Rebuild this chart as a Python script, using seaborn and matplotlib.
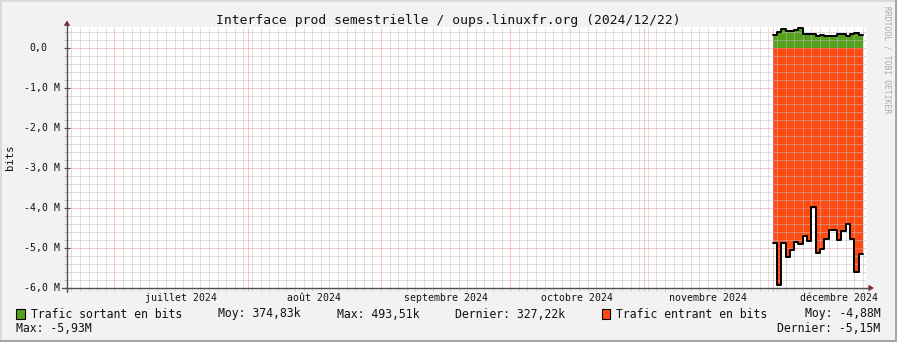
import numpy as np
import pandas as pd
import matplotlib
matplotlib.use("Agg")
import matplotlib.pyplot as plt
import matplotlib.dates as mdates
from matplotlib.lines import Line2D
from matplotlib.patches import Polygon, Rectangle
from matplotlib.ticker import MultipleLocator, FixedLocator, NullFormatter
from matplotlib.transforms import blended_transform_factory
import seaborn as sns

# ---------------- data ----------------
title = "Interface prod semestrielle / oups.linuxfr.org (2024/12/22)"
y_label = "bits"
watermark = "RRDTOOL / TOBI OETIKER"
period_start = "2024-06-20 00:00"
period_end = "2024-12-22 17:00"
data_start = "2024-12-01"

# daily values (outgoing in kbit, incoming in Mbit, incoming drawn negative)
sortant_k = [325, 408, 467, 425, 425, 442, 494, 358, 358, 358, 308,
             333, 292, 292, 292, 358, 358, 292, 342, 367, 327]
entrant_M = [-4.87, -5.93, -4.87, -5.23, -5.05, -4.84, -4.90, -4.69, -4.83, -3.98, -5.13,
             -5.03, -4.78, -4.56, -4.56, -4.80, -4.58, -4.41, -4.78, -5.60, -5.15]

month_starts = ["2024-07-01", "2024-08-01", "2024-09-01", "2024-10-01", "2024-11-01", "2024-12-01"]
month_labels = ["juillet 2024", "août 2024", "septembre 2024", "octobre 2024",
                "novembre 2024", "décembre 2024"]
y_ticks_M = [0, -1, -2, -3, -4, -5, -6]
y_tick_labels = ["0,0", "-1,0 M", "-2,0 M", "-3,0 M", "-4,0 M", "-5,0 M", "-6,0 M"]
y_top_M = 0.53

legend_out = ["Trafic sortant en bits", "Moy: 374,83k", "Max: 493,51k", "Dernier: 327,22k"]
legend_in = ["Trafic entrant en bits", "Moy: -4,88M", "Max: -5,93M", "Dernier: -5,15M"]

# ---------------- style ----------------
BACK = "#F2F2F2"
GREEN = "#55A01C"
ORANGE = "#FF4A12"
MGRID = "#EE8C8C"
GRID = "#BEBEBE"
AXIS = "#505050"
ARROW = "#8B1A1A"
MONO = ["DejaVu Sans Mono", "DejaVu Sans"]

sns.set_style("white")
plt.rcParams["font.family"] = MONO

W, H = 897, 342
fig = plt.figure(figsize=(W / 100, H / 100), dpi=100, facecolor=BACK)

L, R, B, T = 67, 866, 288, 26.7
ax = fig.add_axes([L / W, (H - B) / H, (R - L) / W, (B - T) / H])
ax.set_facecolor("white")
for s in ax.spines.values():
    s.set_visible(False)

x0 = mdates.date2num(pd.Timestamp(period_start))
x1 = mdates.date2num(pd.Timestamp(period_end))
ax.set_xlim(x0, x1)
ax.set_ylim(y_ticks_M[-1] * 1e6, y_top_M * 1e6)

# data
dates = pd.date_range(data_start, periods=len(sortant_k), freq="D")
edges = dates.append(pd.DatetimeIndex([dates[-1] + pd.Timedelta(days=1)]))
out_vals = np.array(sortant_k, dtype=float) * 1e3
in_vals = np.array(entrant_M, dtype=float) * 1e6
out_step = np.append(out_vals, out_vals[-1])
in_step = np.append(in_vals, in_vals[-1])
ex = mdates.date2num(edges)

ax.fill_between(ex, 0, out_step, step="post", color=GREEN, lw=0, zorder=1)
ax.fill_between(ex, 0, in_step, step="post", color=ORANGE, lw=0, zorder=1)

df = pd.DataFrame({"t": ex, "out": out_step, "in": in_step})
sns.lineplot(data=df, x="t", y="out", drawstyle="steps-post", color="black",
             lw=1.4, ax=ax, zorder=4)
sns.lineplot(data=df, x="t", y="in", drawstyle="steps-post", color="black",
             lw=1.4, ax=ax, zorder=4)
ax.set_xlabel("")
ax.set_ylabel("")

# grid (drawn above the areas like rrdtool)
ax.set_axisbelow(False)
dot = (0, (1, 1))
ax.yaxis.set_major_locator(FixedLocator(np.array(y_ticks_M) * 1e6))
ax.yaxis.set_minor_locator(MultipleLocator(2e5))
ax.yaxis.set_major_formatter(NullFormatter())
ax.grid(which="minor", axis="y", color=GRID, ls=dot, lw=0.72, zorder=3)
ax.grid(which="major", axis="y", color=MGRID, ls=dot, lw=0.72, zorder=3)
ax.tick_params(axis="y", which="major", direction="inout", length=4, width=0.8,
               color=AXIS, left=True)
ax.tick_params(axis="y", which="minor", direction="out", length=2, width=0.72,
               color="#BBBBBB", left=True)

mstart = mdates.date2num(pd.to_datetime(month_starts))
two_day = mdates.date2num(pd.date_range("2024-06-21", period_end, freq="2D"))
tick_ext = -3 / (B - T)
for d in two_day:
    if np.min(np.abs(mstart - d)) < 0.5:
        continue
    ax.axvline(d, ymin=tick_ext, ymax=1, color=GRID, ls=dot, lw=0.72, zorder=3, clip_on=False)
for d in mstart:
    ax.axvline(d, ymin=tick_ext, ymax=1, color=MGRID, ls=dot, lw=0.72, zorder=3, clip_on=False)

# month labels centred in their month
month_end = np.append(mstart[1:], mdates.date2num(pd.Timestamp("2025-01-01")))
ax.set_xticks((mstart + month_end) / 2)
ax.set_xticklabels(month_labels)
ax.tick_params(axis="x", which="both", length=0, pad=3.6, labelsize=7.1,
               labelcolor="#111111", bottom=True)
ax.xaxis.set_minor_locator(FixedLocator([]))

# y labels
ytr = blended_transform_factory(fig.transFigure, ax.transData)
for v, lab in zip(y_ticks_M, y_tick_labels):
    xr = 60 if lab.endswith("M") else 47.7
    ax.text(xr / W, v * 1e6, lab, transform=ytr, ha="right", va="center",
            fontsize=7.1, color="#111111", clip_on=False)

# axes lines and arrows
def fx(x):
    return x / W

def fy(y):
    return 1 - y / H

fig.add_artist(Line2D([fx(67), fx(67)], [fy(292), fy(23)], color=AXIS, lw=1.0))
fig.add_artist(Line2D([fx(62), fx(870)], [fy(288), fy(288)], color=AXIS, lw=1.0))
fig.add_artist(Polygon([[fx(67), fy(20.5)], [fx(63.8), fy(25.8)], [fx(70.2), fy(25.8)]],
                       closed=True, color=ARROW, lw=0))
fig.add_artist(Polygon([[fx(874), fy(288)], [fx(868.5), fy(284.8)], [fx(868.5), fy(291.2)]],
                       closed=True, color=ARROW, lw=0))

# frame shading
fig.add_artist(Rectangle((0, fy(2)), 1, 2 / H, color="#DADADA", lw=0))
fig.add_artist(Rectangle((0, 0), 2 / W, 1, color="#DADADA", lw=0))
fig.add_artist(Rectangle((0, 0), 1, 2 / H, color="#A6A6A6", lw=0))
fig.add_artist(Rectangle((1 - 2 / W, 0), 2 / W, 1, color="#A6A6A6", lw=0))

# texts
fig.text(fx(448.5), fy(24.3), title, ha="center", va="baseline", fontsize=9.4, color="#111111")
fig.text(fx(10), fy(157.5), y_label, rotation=90, ha="center", va="center",
         fontsize=7.6, color="#111111")
fig.text(fx(887), fy(60), watermark, rotation=270, ha="center", va="center",
         fontsize=5.8, color="#AAAAAA")

LEG = 8.3
fig.add_artist(Rectangle((fx(15.7), fy(318.7)), 9.3 / W, 9.4 / H, facecolor=GREEN,
                         edgecolor="black", lw=0.8))
fig.text(fx(30.7), fy(317.5), legend_out[0], fontsize=LEG, va="baseline", color="#111111")
fig.text(fx(217.7), fy(317.5), legend_out[1], fontsize=LEG, va="baseline", color="#111111")
fig.text(fx(336.7), fy(317.5), legend_out[2], fontsize=LEG, va="baseline", color="#111111")
fig.text(fx(455), fy(317.5), legend_out[3], fontsize=LEG, va="baseline", color="#111111")

fig.add_artist(Rectangle((fx(601.5), fy(318.7)), 8.5 / W, 9.4 / H, facecolor=ORANGE,
                         edgecolor="black", lw=0.8))
fig.text(fx(615.7), fy(317.5), legend_in[0], fontsize=LEG, va="baseline", color="#111111")
fig.text(fx(880.5), fy(317.5), legend_in[1], fontsize=LEG, va="baseline", ha="right",
         color="#111111")
fig.text(fx(15.7), fy(331.5), legend_in[2], fontsize=LEG, va="baseline", color="#111111")
fig.text(fx(880.5), fy(331.5), legend_in[3], fontsize=LEG, va="baseline", ha="right",
         color="#111111")

fig.savefig("out.png", dpi=100, facecolor=BACK)
